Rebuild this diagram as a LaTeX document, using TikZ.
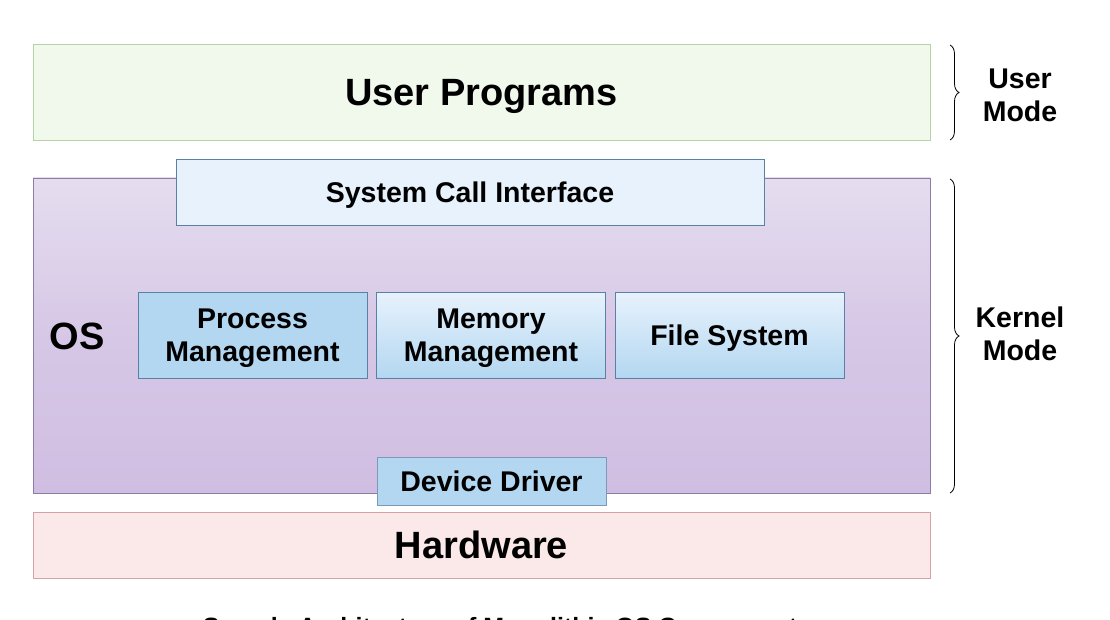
\documentclass[tikz,border=0pt]{standalone}
\usepackage{fontspec}
\setmainfont{Liberation Sans}
\usetikzlibrary{decorations.pathreplacing}
\definecolor{ugreen}{HTML}{F1F8EC}
\definecolor{ugreenb}{HTML}{B5D3A5}
\definecolor{ostop}{HTML}{E5DDEF}
\definecolor{osbot}{HTML}{D0BEE2}
\definecolor{osb}{HTML}{8B7DA5}
\definecolor{lblue}{HTML}{E7F2FC}
\definecolor{mblue}{HTML}{B3D7F1}
\definecolor{blueb}{HTML}{5A80A6}
\definecolor{hwfill}{HTML}{FBE9E9}
\definecolor{hwb}{HTML}{D5A3A6}
\tikzset{
  layer/.style={draw, rectangle, inner sep=0pt, line width=0.9pt},
  bigtxt/.style={font=\fontsize{38}{44}\selectfont\bfseries},
  midtxt/.style={font=\fontsize{28.5}{33}\selectfont\bfseries, align=center},
  intxt/.style={text depth=0pt},
  comp/.style={layer, draw=blueb, minimum width=229pt, minimum height=86pt, midtxt, intxt},
  bracestyle/.style={decorate, decoration={brace, amplitude=9pt}, line width=0.8pt},
}
\begin{document}
\begin{tikzpicture}[x=1pt,y=-1pt]
\useasboundingbox (0,0) rectangle (1110,620);
\clip (0,0) rectangle (1110,620);
\node[layer, fill=ugreen, draw=ugreenb, minimum width=897pt, minimum height=96pt, bigtxt, intxt] (user) at (481.5,92) {User Programs};
\node[layer, draw=osb, top color=ostop, bottom color=osbot, middle color=osbot!70!ostop, minimum width=897pt, minimum height=315pt] (os) at (481.5,335.5) {};
\node[bigtxt, anchor=center] (oslbl) at (77,336) {OS};
\node[layer, fill=lblue, draw=blueb, minimum width=588pt, minimum height=66pt, midtxt, intxt] (sci) at (470,192) {System Call Interface};
\node[comp, fill=mblue] (pm) at (252.5,335) {Process\\Management};
\node[comp, top color=lblue, bottom color=mblue] (mm) at (491,335) {Memory\\Management};
\node[comp, top color=lblue, bottom color=mblue] (fs) at (729.5,335) {File System};
\node[layer, fill=mblue, draw=blueb!80!white, minimum width=229pt, minimum height=48pt, midtxt] (dd) at (491.5,481) {Device Driver};
\node[layer, fill=hwfill, draw=hwb, minimum width=897pt, minimum height=66pt, bigtxt] (hw) at (481.5,545) {Hardware};
\coordinate (ut) at (950,45);
\coordinate (ub) at (950,140);
\coordinate (kt) at (950,179);
\coordinate (kb) at (950,493);
\draw[bracestyle] (ut) -- (ub);
\draw[bracestyle] (kt) -- (kb);
\node[midtxt] (um) at (1020,95) {User\\Mode};
\node[midtxt] (km) at (1020,334) {Kernel\\Mode};
\node[font=\fontsize{25}{30}\selectfont\bfseries, anchor=base] (cap) at (507,635) {Sample Architecture of Monolithic OS Components};
\end{tikzpicture}
\end{document}
